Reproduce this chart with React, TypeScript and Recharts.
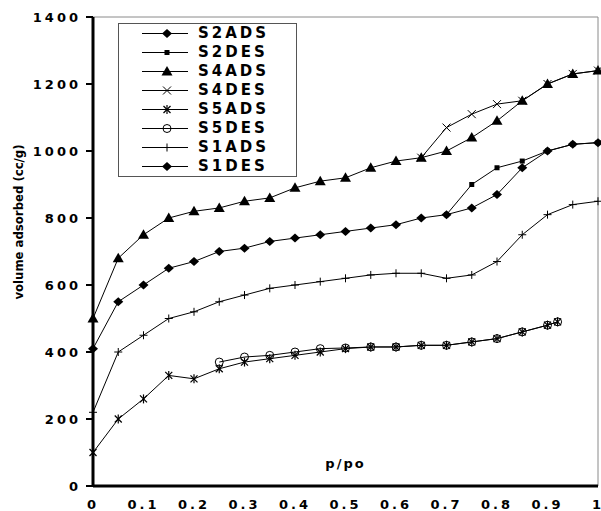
import React from "react"
import { LineChart, Line, XAxis, YAxis, Legend, ReferenceLine } from "recharts"

// relative pressure grid (p/po)
const pressure = [0, 0.05, 0.1, 0.15, 0.2, 0.25, 0.3, 0.35, 0.4, 0.45, 0.5, 0.55, 0.6, 0.65, 0.7, 0.75, 0.8, 0.85, 0.9, 0.95, 1]
const s4Ads = [500, 680, 750, 800, 820, 830, 850, 860, 890, 910, 920, 950, 970, 980, 1000, 1040, 1090, 1150, 1200, 1230, 1240]
const s2Ads = [410, 550, 600, 650, 670, 700, 710, 730, 740, 750, 760, 770, 780, 800, 810, 830, 870, 950, 1000, 1020, 1025]
const s1Ads = [220, 400, 450, 500, 520, 550, 570, 590, 600, 610, 620, 630, 635, 635, 620, 630, 670, 750, 810, 840, 850]

const s4DesP = [0.65, 0.7, 0.75, 0.8, 0.85, 0.9, 0.95, 1]
const s4Des = [980, 1070, 1110, 1140, 1150, 1200, 1230, 1240]

const s2DesP = [0.7, 0.75, 0.8, 0.85, 0.9, 0.95, 1]
const s2Des = [810, 900, 950, 970, 1000, 1020, 1025]

const s5AdsP = [0, 0.05, 0.1, 0.15, 0.2, 0.25, 0.3, 0.35, 0.4, 0.45, 0.5, 0.55, 0.6, 0.65, 0.7, 0.75, 0.8, 0.85, 0.9, 0.92]
const s5Ads = [100, 200, 260, 330, 320, 350, 370, 380, 390, 400, 410, 415, 415, 420, 420, 430, 440, 460, 480, 490]

const s5DesP = [0.25, 0.3, 0.35, 0.4, 0.45, 0.5, 0.55, 0.6, 0.65, 0.7, 0.75, 0.8, 0.85, 0.9, 0.92]
const s5Des = [370, 385, 390, 400, 410, 412, 415, 415, 420, 420, 430, 440, 460, 480, 490]

// S1DES is listed in the legend but no separate trace is visible
const s1DesP: number[] = []
const s1Des: number[] = []

const xTicks = [0, 0.1, 0.2, 0.3, 0.4, 0.5, 0.6, 0.7, 0.8, 0.9, 1]
const yTicks = [0, 200, 400, 600, 800, 1000, 1200, 1400]

const toPoints = (xs: number[], ys: number[]) => xs.map((x, i) => ({ x, y: ys[i] }))

type Kind = "diamond" | "square" | "triangle" | "cross" | "star" | "circle" | "plus"

const series: { name: string; kind: Kind; data: { x: number; y: number }[] }[] = [
  { name: "S2ADS", kind: "diamond", data: toPoints(pressure, s2Ads) },
  { name: "S2DES", kind: "square", data: toPoints(s2DesP, s2Des) },
  { name: "S4ADS", kind: "triangle", data: toPoints(pressure, s4Ads) },
  { name: "S4DES", kind: "cross", data: toPoints(s4DesP, s4Des) },
  { name: "S5ADS", kind: "star", data: toPoints(s5AdsP, s5Ads) },
  { name: "S5DES", kind: "circle", data: toPoints(s5DesP, s5Des) },
  { name: "S1ADS", kind: "plus", data: toPoints(pressure, s1Ads) },
  { name: "S1DES", kind: "diamond", data: toPoints(s1DesP, s1Des) },
]

const tickFont = { fontFamily: "DejaVu Sans", fontWeight: 700, fontSize: 13, fill: "#000", letterSpacing: 3 }

function Marker({ cx, cy, kind }: { cx: number; cy: number; kind: Kind }) {
  switch (kind) {
    case "diamond":
      return <polygon points={`${cx},${cy - 4.5} ${cx + 5},${cy} ${cx},${cy + 4.5} ${cx - 5},${cy}`} fill="#000" />
    case "square":
      return <rect x={cx - 2.5} y={cy - 2.5} width={5} height={5} fill="#000" />
    case "triangle":
      return <polygon points={`${cx},${cy - 5.5} ${cx + 5.5},${cy + 4} ${cx - 5.5},${cy + 4}`} fill="#000" />
    case "cross":
      return (
        <g stroke="#000" strokeWidth={1}>
          <line x1={cx - 4} y1={cy - 4} x2={cx + 4} y2={cy + 4} />
          <line x1={cx - 4} y1={cy + 4} x2={cx + 4} y2={cy - 4} />
        </g>
      )
    case "star":
      return (
        <g stroke="#000" strokeWidth={1.2}>
          <line x1={cx - 3.5} y1={cy - 3.5} x2={cx + 3.5} y2={cy + 3.5} />
          <line x1={cx - 3.5} y1={cy + 3.5} x2={cx + 3.5} y2={cy - 3.5} />
          <line x1={cx} y1={cy - 4.5} x2={cx} y2={cy + 4.5} />
        </g>
      )
    case "circle":
      return <circle cx={cx} cy={cy} r={4} fill="none" stroke="#000" strokeWidth={1} />
    case "plus":
      return (
        <g stroke="#000" strokeWidth={1}>
          <line x1={cx} y1={cy - 4} x2={cx} y2={cy + 4} />
          <line x1={cx - 4} y1={cy} x2={cx + 4} y2={cy} />
        </g>
      )
  }
}

const dotFor = (kind: Kind) => (props: any) => {
  const { cx, cy, index } = props
  if (cx == null || cy == null) return <g key={`${kind}-${index}`} />
  return (
    <g key={`${kind}-${index}`}>
      <Marker cx={cx} cy={cy} kind={kind} />
    </g>
  )
}

function LegendBox() {
  return (
    <div
      style={{
        boxSizing: "border-box",
        width: 179,
        height: 154,
        border: "1px solid #555",
        background: "#fff",
      }}
    >
      {series.map((s) => (
        <div key={s.name} style={{ display: "flex", alignItems: "center", height: 19 }}>
          <svg width={46} height={19} style={{ marginLeft: 23, flex: "none" }}>
            <line x1={0} y1={9.5} x2={46} y2={9.5} stroke="#000" strokeWidth={1} />
            <Marker cx={25} cy={9.5} kind={s.kind} />
          </svg>
          <span
            style={{
              marginLeft: 10,
              fontFamily: "DejaVu Sans",
              fontWeight: 700,
              fontSize: 15,
              letterSpacing: 3,
              color: "#000",
              lineHeight: "19px",
            }}
          >
            {s.name}
          </span>
        </div>
      ))}
    </div>
  )
}

function renderYLabel() {
  return (
    <text
      x={18}
      y={222}
      transform="rotate(-90 18 222)"
      textAnchor="middle"
      dominantBaseline="central"
      style={{ fontFamily: "'DejaVu Sans Condensed', 'Liberation Sans Narrow', sans-serif", fontWeight: 700, fontSize: 13, fill: "#000" }}
    >
      volume adsorbed (cc/g)
    </text>
  )
}

function renderXLabel(props: any) {
  const vb = props.viewBox || { x: 93, width: 505, y: 486 }
  return (
    <text
      x={vb.x + vb.width / 2}
      y={vb.y - 23}
      textAnchor="middle"
      dominantBaseline="central"
      style={{ fontFamily: "DejaVu Sans", fontWeight: 700, fontSize: 13, letterSpacing: 2, fill: "#000" }}
    >
      p/po
    </text>
  )
}

export default function App() {
  return (
    <div style={{ position: "absolute", left: 0, top: 0, width: 601, height: 511, background: "#fff" }}>
      <LineChart width={601} height={511} margin={{ top: 17, right: 3, bottom: 0, left: 0 }}>
        <ReferenceLine y={1400} stroke="#8a8a8a" strokeWidth={1} />
        <ReferenceLine x={1} stroke="#8a8a8a" strokeWidth={1} />
        <XAxis
          type="number"
          dataKey="x"
          domain={[0, 1]}
          ticks={xTicks}
          interval={0}
          height={25}
          tickLine={false}
          tickSize={0}
          tickMargin={14}
          axisLine={{ stroke: "#000", strokeWidth: 3 }}
          tick={tickFont}
          label={renderXLabel}
        />
        <YAxis
          type="number"
          dataKey="y"
          domain={[0, 1400]}
          ticks={yTicks}
          interval={0}
          width={93}
          tickSize={7}
          tickMargin={5}
          tickLine={{ stroke: "#000", strokeWidth: 2 }}
          axisLine={{ stroke: "#000", strokeWidth: 3 }}
          tick={tickFont}
          label={renderYLabel}
        />
        <Legend
          layout="vertical"
          align="center"
          verticalAlign="middle"
          content={() => <LegendBox />}
          wrapperStyle={{ left: 118, top: 23, width: 179, height: 154 }}
        />
        {series.map((s) => (
          <Line
            key={s.name}
            data={s.data}
            dataKey="y"
            name={s.name}
            type="linear"
            stroke="#000"
            strokeWidth={1}
            dot={dotFor(s.kind)}
            activeDot={false}
            isAnimationActive={false}
          />
        ))}
      </LineChart>
    </div>
  )
}
